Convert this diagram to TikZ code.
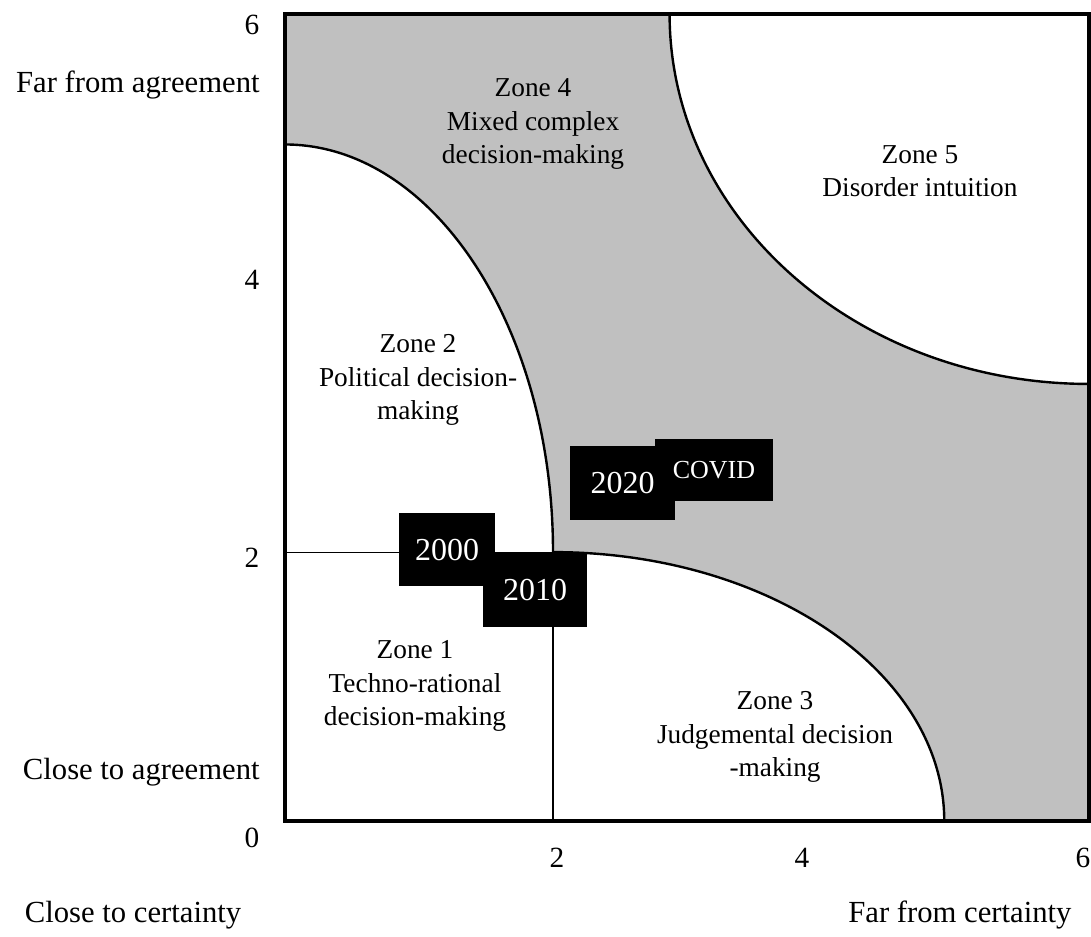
\documentclass[tikz,border=0pt]{standalone}
\usepackage{fontspec}
\setmainfont{Liberation Serif}
\usetikzlibrary{positioning}
\definecolor{zonegray}{HTML}{C0C0C0}

\begin{document}
\begin{tikzpicture}[
  x=100.5pt,y=100.9pt,
  zonetext/.style={align=center,inner sep=0pt,font=\fontsize{20.5}{25}\selectfont},
  ticklabel/.style={inner sep=0pt,font=\fontsize{22}{25}\selectfont},
  axislabel/.style={inner sep=0pt,font=\fontsize{23}{26}\selectfont},
  yearbox/.style={fill=black,text=white,inner sep=0pt,font=\fontsize{24}{27}\selectfont},
  arcline/.style={line width=1.8pt},
  thinline/.style={line width=0.9pt}
]
\useasboundingbox (-2.127,-0.855) rectangle (6.015,6.104);

% zones
\fill[zonegray] (0,0) rectangle (6,6);
\fill[white] (0,2) -- (0,5.03) arc[start angle=90,end angle=0,x radius=2,y radius=3.03] -- cycle;
\fill[white] (2,0) -- (2,2) arc[start angle=90,end angle=0,x radius=2.92,y radius=2] -- cycle;
\fill[white] (6,6) -- (2.87,6) arc[start angle=180,end angle=270,x radius=3.13,y radius=2.75] -- cycle;
\fill[white] (0,0) rectangle (2,2);
\draw[thinline] (0,2) -- (2,2) -- (2,0);
\draw[arcline] (0,5.03) arc[start angle=90,end angle=0,x radius=2,y radius=3.03];
\draw[arcline] (2,2) arc[start angle=90,end angle=0,x radius=2.92,y radius=2];
\draw[arcline] (2.87,6) arc[start angle=180,end angle=270,x radius=3.13,y radius=2.75];
\draw[line width=3pt] (0,0) rectangle (6,6);

\node[zonetext] (zone4) at (1.851,5.182) {Zone 4\\Mixed complex\\decision-making};
\node[zonetext] (zone5) at (4.739,4.833) {Zone 5\\Disorder intuition};
\node[zonetext] (zone2) at (0.993,3.279) {Zone 2\\Political decision-\\making};
\node[zonetext] (zone1) at (0.970,1.004) {Zone 1\\Techno-rational\\decision-making};
\node[zonetext] (zone3) at (3.657,0.625) {Zone 3\\Judgemental decision\\-making};

% years
\node[yearbox,minimum width=72pt,minimum height=54.75pt] (y2000) at (1.209,2.019) {2000};
\node[yearbox,minimum width=78pt,minimum height=56pt] (y2010) at (1.866,1.721) {2010};
\node[yearbox,minimum width=79pt,minimum height=55.5pt] (y2020) at (2.519,2.513) {2020};
\node[yearbox,minimum width=88.5pt,minimum height=46.5pt,font=\fontsize{19.5}{22}\selectfont] (covid) at (3.201,2.610) {COVID};

% axes
\node[ticklabel,anchor=east] (ysix) at (-0.19,5.918) {6};
\node[axislabel,anchor=east] (farag) at (-0.187,5.472) {Far from agreement};
\node[ticklabel,anchor=east] (yfour) at (-0.19,4.022) {4};
\node[ticklabel,anchor=east] (ytwo) at (-0.19,1.955) {2};
\node[axislabel,anchor=east] (closeag) at (-0.187,0.364) {Close to agreement};
\node[ticklabel,anchor=east] (yzero) at (-0.19,-0.126) {0};
\node[ticklabel] (xtwo) at (2.03,-0.275) {2};
\node[ticklabel] (xfour) at (3.858,-0.275) {4};
\node[ticklabel] (xsix) at (5.955,-0.275) {6};
\node[axislabel] (closecert) at (-1.134,-0.699) {Close to certainty};
\node[axislabel] (farcert) at (5.037,-0.699) {Far from certainty};
\end{tikzpicture}
\end{document}
